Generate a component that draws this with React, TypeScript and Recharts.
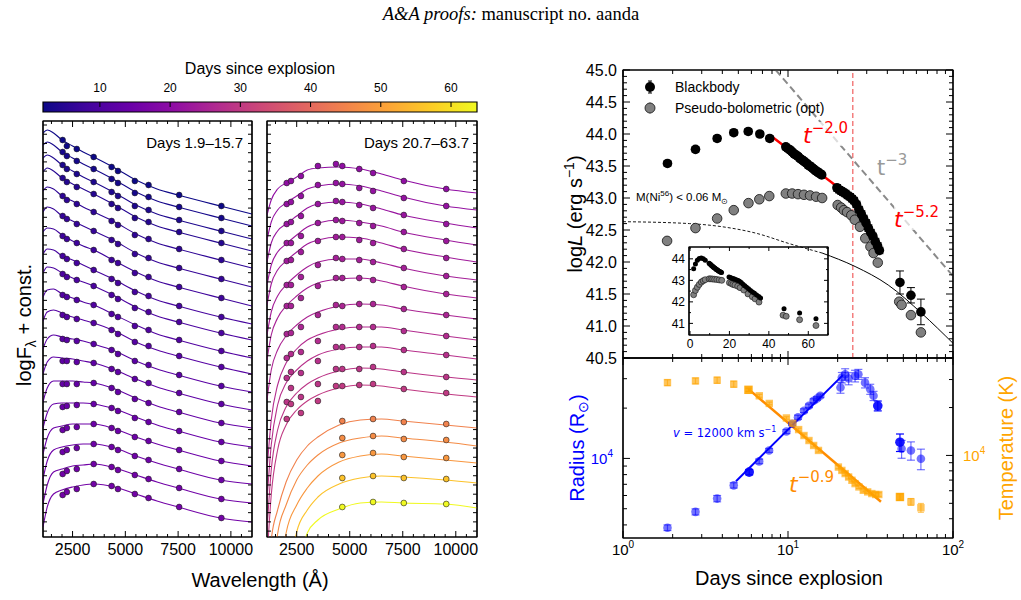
import React from "react";
import { ComposedChart, Line, Scatter, XAxis, YAxis, ErrorBar, ReferenceLine, ReferenceArea } from "recharts";

const FONT = '"Liberation Sans", Arial, Helvetica, sans-serif';
const MATH = '"DejaVu Sans", sans-serif';

// colour scale of the epochs
const dayMin = 1.9;
const dayMax = 63.7;
const cbarTicks = [10, 20, 30, 40, 50, 60];

// SED panels: band wavelengths (A) and the wavelengths where the fits are sampled
const bandWave = [2030, 2230, 2700, 3500, 4350, 4650, 5450, 6100, 7550, 9550];
const fitWave = [1100, 1300, 1600, 2000, 2500, 3000, 3500, 4500, 5500, 6500, 7500, 9500, 11000];
const waveMajor = [2500, 5000, 7500, 10000];

// left panel, days 1.9-15.7 (flux in arbitrary log units, shifted per epoch)
const earlyDays = [1.9, 2.9, 3.8, 4.8, 5.8, 6.8, 7.8, 8.8, 9.8, 10.5, 11.2, 11.9, 12.6, 13.3, 14.0, 14.6, 15.0, 15.4, 15.7];
const earlyFlux = [
  [397, 391, 388, 380, 370, 366, 356, 352, 342, 331],
  [385, 381, 376, 368, 358, 354, 344, 340, 330, 319],
  [372, 368, 363, 355, 345, 341, 331, 327, 317, 306],
  [359, 355, 350, 343, 333, 329, 319, 315, 305, 294],
  [341, 337, 333, 325, 316, 312, 302, 298, 288, 277],
  [321, 318, 313, 306, 297, 293, 283, 279, 269, 258],
  [301, 298, 294, 287, 277, 274, 264, 260, 250, 239],
  [281, 278, 274, 267, 258, 254, 245, 241, 231, 220],
  [263, 260, 257, 251, 242, 238, 229, 225, 215, 204],
  [242, 240, 237, 232, 223, 220, 211, 207, 197, 186],
  [222, 220, 218, 214, 207, 203, 195, 191, 181, 170],
  [198, 197, 196, 193, 187, 183, 176, 172, 162, 151],
  [176, 176, 175, 174, 168, 165, 158, 154, 144, 133],
  [153, 153, 153, 154, 149, 145, 138, 134, 125, 114],
  [130, 131, 132, 133, 129, 126, 119, 115, 106, 95],
  [107, 109, 110, 113, 109, 106, 100, 96, 87, 76],
  [85, 87, 89, 93, 90, 87, 81, 77, 68, 57],
  [63, 66, 68, 73, 70, 67, 62, 58, 49, 38],
  [42, 45, 48, 53, 51, 48, 43, 39, 30, 19],
];
const earlyFit = [
  [404, 407, 404, 397, 391, 385, 380, 369, 357, 348, 342, 331, 323],
  [392, 395, 392, 385, 379, 373, 368, 357, 345, 336, 330, 319, 311],
  [379, 382, 379, 372, 366, 360, 355, 344, 332, 323, 317, 306, 298],
  [365, 369, 366, 359, 353, 348, 343, 332, 320, 311, 305, 294, 286],
  [346, 350, 348, 341, 336, 330, 325, 315, 303, 294, 288, 277, 269],
  [325, 330, 328, 321, 316, 311, 306, 296, 284, 275, 269, 258, 250],
  [305, 309, 308, 302, 296, 291, 287, 276, 265, 256, 250, 239, 231],
  [283, 288, 287, 281, 277, 272, 267, 257, 246, 237, 231, 220, 213],
  [264, 270, 269, 264, 259, 255, 251, 241, 230, 221, 215, 204, 197],
  [240, 247, 248, 243, 239, 235, 232, 222, 212, 203, 197, 186, 179],
  [216, 225, 227, 224, 220, 217, 214, 206, 195, 187, 181, 170, 163],
  [188, 198, 202, 200, 198, 196, 193, 186, 176, 168, 162, 151, 145],
  [163, 175, 180, 179, 178, 176, 174, 167, 158, 150, 144, 133, 127],
  [135, 149, 156, 156, 156, 155, 154, 148, 139, 131, 125, 114, 109],
  [109, 124, 133, 134, 134, 134, 133, 128, 120, 112, 106, 95, 90],
  [83, 99, 109, 111, 113, 113, 113, 108, 100, 93, 87, 76, 71],
  [58, 76, 87, 90, 92, 93, 93, 89, 81, 74, 68, 57, 53],
  [33, 52, 65, 68, 71, 72, 73, 69, 62, 55, 49, 38, 34],
  [10, 30, 43, 47, 50, 52, 53, 50, 43, 36, 30, 19, 15],
];

// middle panel, days 20.7-63.7
const lateDays = [20.7, 21.4, 22.1, 22.8, 23.5, 24.2, 24.9, 25.6, 27.0, 28.0, 29.0, 30.0, 44.7, 46.7, 48.7, 55.7, 63.7];
const lateFlux = [
  [354, 356, 361, 371, 373, 371, 368, 364, 356, 348],
  [333, 335, 341, 352, 354, 353, 349, 346, 339, 331],
  [313, 315, 321, 333, 336, 335, 332, 329, 322, 313],
  [294, 294, 301, 314, 317, 316, 314, 311, 305, 296],
  [276, 277, 285, 296, 300, 300, 297, 294, 288, 279],
  [252, 252, 260, 272, 279, 278, 277, 275, 269, 261],
  [231, 231, 239, 251, 259, 259, 259, 257, 250, 243],
  [203, 204, 210, 222, 232, 231, 233, 233, 228, 222],
  [179, 183, 185, 196, 210, 210, 210, 210, 206, 201],
  [159, 165, 164, 176, 190, 190, 190, 191, 187, 182],
  [135, 149, 140, 153, 168, 168, 168, 170, 165, 160],
  [118, 133, 124, 136, 151, 151, 152, 153, 148, 144],
  [null, null, null, null, null, 116, null, 118, 115, 113],
  [null, null, null, null, null, 99, null, 101, 98, 97],
  [null, null, null, null, null, 82, null, 84, 80, 79],
  [null, null, null, null, null, 59, null, 61, 59, 58],
  [null, null, null, null, null, 30, null, 35, 34, 33],
];
const lateFit = [
  [322, 337, 348, 354, 360, 367, 369, 370, 368, 363, 357, 348, 344],
  [297, 315, 327, 334, 341, 348, 351, 353, 351, 346, 340, 331, 327],
  [275, 294, 306, 313, 321, 329, 333, 335, 333, 328, 322, 314, 309],
  [252, 272, 285, 293, 302, 310, 314, 317, 315, 311, 305, 297, 292],
  [232, 253, 267, 276, 285, 293, 297, 300, 299, 294, 288, 280, 275],
  [202, 225, 241, 252, 262, 270, 275, 278, 278, 274, 269, 261, 257],
  [177, 202, 219, 231, 241, 249, 254, 258, 259, 256, 251, 243, 239],
  [137, 167, 187, 201, 212, 220, 225, 231, 233, 232, 228, 222, 218],
  [67, 117, 152, 174, 188, 197, 202, 208, 210, 210, 207, 201, 197],
  [37, 92, 132, 154, 167, 176, 182, 188, 190, 190, 187, 182, 178],
  [7, 67, 107, 130, 144, 153, 159, 166, 169, 168, 165, 160, 157],
  [-23, 42, 87, 112, 127, 136, 142, 149, 152, 151, 148, 143, 140],
  [-83, -3, 27, 55, 77, 91, 100, 112, 117, 118, 116, 112, 109],
  [-163, -63, 3, 32, 57, 72, 82, 94, 99, 101, 99, 95, 91],
  [-250, -163, -63, 4, 32, 49, 61, 75, 81, 83, 81, 77, 74],
  [-400, -300, -163, -63, 5, 27, 40, 53, 59, 61, 60, 57, 54],
  [-500, -400, -300, -83, -33, 4, 17, 28, 34, 35, 34, 33, 29],
];

// bolometric light curve
const bbDays = [1.86, 2.75, 3.72, 4.69, 5.74, 6.75, 7.75,
  9.7, 10.0, 10.3, 10.6, 10.9, 11.2, 11.5, 11.8, 12.1, 12.4, 12.7, 13.0, 13.3, 13.6, 13.9, 14.2, 14.5, 14.8, 15.1, 15.4, 15.7, 16.0,
  19.8, 20.4, 21.0, 21.6, 22.3, 23.0, 23.7, 24.4, 25.1,
  26.0, 26.9, 27.8, 28.7, 29.7, 30.7, 31.7, 32.7, 33.8, 34.9, 35.8,
  47.7, 55.6, 63.9];
const bbLum = [43.54, 43.76, 43.93, 44.02, 44.04, 44.0, 43.93,
  43.8, 43.77, 43.75, 43.72, 43.69, 43.67, 43.65, 43.62, 43.6, 43.58, 43.56, 43.54, 43.51, 43.5, 43.48, 43.46, 43.44, 43.42, 43.41, 43.39, 43.38, 43.36,
  43.16, 43.13, 43.11, 43.09, 43.07, 43.04, 43.02, 42.99, 42.96,
  42.9, 42.82, 42.75, 42.68, 42.61, 42.53, 42.46, 42.4, 42.32, 42.25, 42.18,
  41.68, 41.48, 41.22];
const bbErr = [0.04, 0.04, 0.04, 0.04, 0.04, 0.04, 0.04,
  0.04, 0.04, 0.04, 0.04, 0.04, 0.04, 0.04, 0.04, 0.04, 0.04, 0.04, 0.04, 0.04, 0.04, 0.04, 0.04, 0.04, 0.04, 0.04, 0.04, 0.04, 0.04,
  0.05, 0.05, 0.05, 0.05, 0.05, 0.05, 0.05, 0.05, 0.05,
  0.05, 0.05, 0.05, 0.05, 0.05, 0.05, 0.05, 0.05, 0.05, 0.05, 0.05,
  0.18, 0.12, 0.2];
const pbDays = [1.85, 2.75, 3.72, 4.69, 5.76, 6.7, 7.7, 9.7, 10.6, 11.5, 12.5, 13.6, 14.8, 16.1,
  20.0, 21.0, 21.8, 22.8, 24.2, 25.4, 27.3, 29.4, 31.6, 33.0, 35.0, 47.2, 48.8, 55.6, 63.9];
const pbLum = [42.33, 42.53, 42.68, 42.81, 42.92, 42.98, 43.03, 43.07, 43.07, 43.06, 43.05, 43.04, 43.02, 43.0,
  42.89, 42.85, 42.81, 42.78, 42.73, 42.66, 42.55, 42.37, 42.24, 42.14, 41.99, 41.38, 41.33, 41.17, 40.9];
const niEarlyDays = [1, 2.53, 4.02, 6.4, 10.1, 16.1];
const niEarlyLum = [42.63, 42.6, 42.55, 42.45, 42.29, 42.14];
const niLateDays = [16.1, 25.5, 40.5, 64.5, 100];
const niLateLum = [42.14, 41.93, 41.64, 41.2, 40.73];
const powDays = [7.9, 25, 36.2];
const powLum = [43.97, 42.98, 42.14];
const t3Days = [8.43, 100];
const t3Lum = [45.0, 41.78];
const breakDay = 24.7;

// radius and temperature
const radDays = [1.86, 2.75, 3.72, 4.69, 5.82, 6.69, 7.68, 9.78, 10.6, 11.5, 12.5, 13.4, 14.3, 15.0, 15.7,
  20.8, 21.2, 22.2, 23.3, 25.5, 26.7, 29.3, 31.5, 33.0, 35.0, 47.7, 48.8, 55.6, 63.9];
const radVal = [3850, 4790, 5750, 6900, 8280, 9600, 11160, 14480, 16110, 17630, 19300, 20650, 22140, 22840, 23710,
  26550, 30470, 31900, 30080, 31190, 31900, 28410, 25980, 23700, 20650, 12500, 11420, 11160, 9960];
const radErr = [150, 200, 250, 250, 300, 300, 300, 400, 400, 500, 500, 500, 600, 600, 600,
  2000, 2200, 2500, 2500, 2500, 2200, 2000, 1800, 1500, 1400, 1500, 1400, 1400, 1400];
const radBold = [4, 24, 25];
const tempDays = [1.86, 2.75, 3.72, 4.69, 5.76, 6.7, 7.7, 9.78, 10.7, 11.6, 12.5, 13.4, 14.3, 15.3,
  20.2, 21.2, 22.2, 23.3, 24.4, 25.5, 26.9, 28.6, 30.4, 32.2, 34.0, 35.5, 47.7, 55.6, 63.9];
const tempVal = [28700, 29420, 29710, 28060, 25850, 23710, 21230, 17200, 15930, 14540, 13340, 12410, 11550, 10750,
  8450, 8050, 7690, 7320, 6980, 6650, 6340, 6040, 5900, 5760, 5680, 5680, 5480, 5110, 4690];
const tempErr = [1200, 1200, 1300, 1200, 600, 500, 400, 300, 300, 300, 300, 250, 250, 250,
  200, 200, 200, 200, 150, 150, 150, 150, 150, 150, 150, 150, 250, 250, 300];
const tempBold = [4, 26];
const velDays = [4.84, 21.5];
const velRad = [7300, 31500];
const coolDays = [5.76, 36.6];
const coolTemp = [26100, 5110];

// ---------- helpers ----------
const plasmaStops = ["#0d0887", "#41049d", "#6a00a8", "#8f0da4", "#b12a90", "#cc4778", "#e16462", "#f2844b", "#fca636", "#fcce25", "#f0f921"];
function hex(c: string) {
  return [1, 3, 5].map((i) => parseInt(c.slice(i, i + 2), 16));
}
function plasma(day: number) {
  const t = Math.max(0, Math.min(1, (day - dayMin) / (dayMax - dayMin))) * 10;
  const i = Math.min(9, Math.floor(t));
  const a = hex(plasmaStops[i]);
  const b = hex(plasmaStops[i + 1]);
  const f = t - i;
  const c = a.map((v, k) => Math.round(v + (b[k] - v) * f));
  return `rgb(${c[0]},${c[1]},${c[2]})`;
}

const zip = (xs: number[], ys: (number | null)[], es?: number[]) =>
  xs.map((x, i) => ({ x, y: ys[i], e: es ? es[i] : 0 })).filter((d) => d.y !== null);

const AX = { stroke: "#000", strokeWidth: 1.2 };
const near = (a: number, b: number) => Math.abs(a - b) <= 1e-6 * Math.max(1, Math.abs(b));

type Side = "bottom" | "top" | "left" | "right";
type TickCfg = {
  side: Side;
  majors: number[];
  major?: number;
  minor?: number;
  label?: (v: number) => React.ReactNode;
  size?: number;
  gap?: number;
  color?: string;
};

function tickFn(c: TickCfg) {
  return (p: any) => {
    const v = Number(p.payload?.value);
    const big = c.majors.some((m) => near(m, v));
    const len = big ? c.major ?? 6 : c.minor ?? 3;
    const x = Number(p.x);
    const y = Number(p.y);
    let x2 = x;
    let y2 = y;
    if (c.side === "bottom") y2 = y - len;
    if (c.side === "top") y2 = y + len;
    if (c.side === "left") x2 = x + len;
    if (c.side === "right") x2 = x - len;
    let text = null;
    if (big && c.label) {
      const gap = c.gap ?? 8;
      const st = { fontFamily: FONT, fontSize: c.size ?? 16, fill: c.color ?? "#000" };
      if (c.side === "bottom")
        text = <text x={x} y={y + gap} textAnchor="middle" {...st}>{c.label(v)}</text>;
      else if (c.side === "left")
        text = <text x={x - gap} y={y} dy="0.36em" textAnchor="end" {...st}>{c.label(v)}</text>;
      else if (c.side === "right")
        text = <text x={x + gap} y={y} dy="0.36em" textAnchor="start" {...st}>{c.label(v)}</text>;
    }
    return (
      <g>
        <path d={`M${x},${y}L${x2},${y2}`} stroke="#000" strokeWidth={1} fill="none" />
        {text}
      </g>
    );
  };
}

const dot = (fill: string, r: number, stroke = "none", sw = 0, op = 1) => (p: any) =>
  <circle cx={p.cx} cy={p.cy} r={r} fill={fill} fillOpacity={op} stroke={stroke} strokeWidth={sw} />;
const square = (fill: string, s: number, op = 1) => (p: any) =>
  <rect x={p.cx - s / 2} y={p.cy - s / 2} width={s} height={s} fill={fill} fillOpacity={op} />;

const pow10 = (e: string, size = 10, rise = 7) => (
  <>
    <tspan>10</tspan>
    <tspan dy={-rise} fontSize={size}>{e}</tspan>
  </>
);

const waveTicks = Array.from({ length: 19 }, (_, i) => 1500 + 500 * i);
const fluxTicks = Array.from({ length: 45 }, (_, k) => 412 - 9.23 * k);
const logTicks = [1, 2, 3, 4, 5, 6, 7, 8, 9, 10, 20, 30, 40, 50, 60, 70, 80, 90, 100];
const lumTicks = Array.from({ length: 46 }, (_, i) => Math.round((40.5 + 0.1 * i) * 10) / 10);
const lumMajor = lumTicks.filter((v) => Math.abs(v * 2 - Math.round(v * 2)) < 1e-6);
const radTicks = [4000, 5000, 6000, 7000, 8000, 9000, 10000, 20000, 30000];
const tempTicks = [4000, 5000, 6000, 7000, 8000, 9000, 10000, 20000, 30000];

// margins for a plot area; side axes take 1px each
const mg = (top: number, right: number, left: number, bottom = 0) => ({ top: top - 1, right: right - 1, left: left - 1, bottom });

type AxisSet = {
  xDomain: [number, number];
  yDomain: [number, number];
  xLog?: boolean;
  yLog?: boolean;
  xTicks: number[];
  yTicks: number[];
  bottomTick: (p: any) => React.ReactNode;
  topTick: (p: any) => React.ReactNode;
  leftTick: (p: any) => React.ReactNode;
  rightTick: (p: any) => React.ReactNode;
  bottomHeight: number;
};

function axes(a: AxisSet) {
  const common = { tickSize: 0, tickMargin: 0, tickLine: false, axisLine: AX, interval: 0 as const, allowDataOverflow: true, type: "number" as const };
  return [
    <XAxis key="xb" xAxisId="b" dataKey="x" domain={a.xDomain} scale={a.xLog ? "log" : "linear"} ticks={a.xTicks} height={a.bottomHeight} tick={a.bottomTick} {...common} />,
    <XAxis key="xt" xAxisId="t" orientation="top" dataKey="x" domain={a.xDomain} scale={a.xLog ? "log" : "linear"} ticks={a.xTicks} height={1} tick={a.topTick} {...common} />,
    <YAxis key="yl" yAxisId="l" dataKey="y" domain={a.yDomain} scale={a.yLog ? "log" : "linear"} ticks={a.yTicks} width={1} tick={a.leftTick} {...common} />,
    <YAxis key="yr" yAxisId="r" orientation="right" dataKey="y" domain={a.yDomain} scale={a.yLog ? "log" : "linear"} ticks={a.yTicks} width={1} tick={a.rightTick} {...common} />,
  ];
}

const frame = (x: [number, number], y: [number, number], yId = "l") => (
  <ReferenceArea xAxisId="b" yAxisId={yId} x1={x[0]} x2={x[1]} y1={y[0]} y2={y[1]} fill="none" fillOpacity={0} stroke="#000" strokeWidth={1.2} ifOverflow="visible" />
);

// ---------- SED panel ----------
function SpecPanel({ left, width, days, flux, fit }: { left: number; width: number; days: number[]; flux: (number | null)[][]; fit: number[][] }) {
  const m = mg(10, 10, 10);
  return (
    <div style={{ position: "absolute", left: left - 10, top: 121 - 10 }}>
      <ComposedChart width={width + 20} height={416 + 10 + 30} margin={m}>
        {axes({
          xDomain: [1100, 11000],
          yDomain: [0, 416],
          xTicks: waveTicks,
          yTicks: fluxTicks,
          bottomHeight: 30,
          bottomTick: tickFn({ side: "bottom", majors: waveMajor, label: (v) => String(v), gap: 18 }),
          topTick: tickFn({ side: "top", majors: waveMajor }),
          leftTick: tickFn({ side: "left", majors: [], minor: 4 }),
          rightTick: tickFn({ side: "right", majors: [], minor: 4 }),
        })}
        {fit.map((row, i) => (
          <Line key={"f" + i} xAxisId="b" yAxisId="l" data={zip(fitWave, row)} dataKey="y" type="monotone"
            stroke={plasma(days[i])} strokeWidth={1.1} dot={false} activeDot={false} isAnimationActive={false} />
        ))}
        {flux.map((row, i) => (
          <Scatter key={"p" + i} xAxisId="b" yAxisId="l" data={zip(bandWave, row)} dataKey="y"
            shape={dot(plasma(days[i]), 2.9, "#222", 0.6)} isAnimationActive={false} />
        ))}
        {frame([1100, 11000], [0, 416])}
      </ComposedChart>
    </div>
  );
}

// ---------- colour bar ----------
function ColorBar() {
  const m = { top: 30, right: 10, left: 10, bottom: 5 };
  return (
    <div style={{ position: "absolute", left: 43 - m.left, top: 101 - m.top }}>
      <ComposedChart width={434 + m.left + m.right} height={11 + m.top + m.bottom} margin={m}>
        <defs>
          <linearGradient id="plasmaGrad" x1="0" y1="0" x2="1" y2="0">
            {plasmaStops.map((c, i) => (
              <stop key={c} offset={`${i * 10}%`} stopColor={c} />
            ))}
          </linearGradient>
        </defs>
        <XAxis xAxisId="t" orientation="top" dataKey="x" type="number" domain={[dayMin, dayMax]} allowDataOverflow ticks={cbarTicks} interval={0}
          height={1} tickSize={0} tickMargin={0} tickLine={false} axisLine={false}
          tick={(p: any) => (
            <text x={p.x} y={Number(p.y) - 10} textAnchor="middle" fontFamily={FONT} fontSize={12}>{p.payload.value}</text>
          )} />
        <YAxis yAxisId="l" dataKey="y" type="number" domain={[0, 1]} hide />
        <ReferenceArea xAxisId="t" yAxisId="l" x1={dayMin} x2={dayMax} y1={0} y2={1} fill="url(#plasmaGrad)" fillOpacity={1} stroke="#000" strokeWidth={1.2} ifOverflow="visible" />
        {cbarTicks.map((d) => (
          <ReferenceLine key={d} xAxisId="t" yAxisId="l" segment={[{ x: d, y: 1 }, { x: d, y: 0.5 }]} stroke="#000" strokeWidth={1} />
        ))}
        <Scatter xAxisId="t" yAxisId="l" data={[{ x: dayMin, y: 0 }, { x: dayMax, y: 1 }]} dataKey="y" shape={() => <g />} isAnimationActive={false} />
      </ComposedChart>
    </div>
  );
}

// ---------- light curve ----------
function LightCurve() {
  const m = mg(10, 10, 60, 12);
  return (
    <div style={{ position: "absolute", left: 623 - 60, top: 70 - 10 }}>
      <ComposedChart width={330 + 70} height={288 + 10 + 1 + 12} margin={m}>
        {axes({
          xDomain: [1, 100],
          yDomain: [40.5, 45],
          xLog: true,
          xTicks: logTicks,
          yTicks: lumTicks,
          bottomHeight: 1,
          bottomTick: tickFn({ side: "bottom", majors: [1, 10, 100], major: 7, minor: 4 }),
          topTick: tickFn({ side: "top", majors: [1, 10, 100], major: 7, minor: 4 }),
          leftTick: tickFn({ side: "left", majors: lumMajor, major: 7, minor: 4, label: (v) => v.toFixed(1), gap: 6, size: 16 }),
          rightTick: tickFn({ side: "right", majors: lumMajor, major: 7, minor: 4 }),
        })}
        <ReferenceLine xAxisId="b" yAxisId="l" x={breakDay} stroke="#f26b6b" strokeWidth={1.3} strokeDasharray="5 3" />
        <Line xAxisId="b" yAxisId="l" data={zip(niEarlyDays, niEarlyLum)} dataKey="y" type="monotone" stroke="#000" strokeWidth={0.9}
          strokeDasharray="3 2" dot={false} activeDot={false} isAnimationActive={false} />
        <Line xAxisId="b" yAxisId="l" data={zip(niLateDays, niLateLum)} dataKey="y" type="monotone" stroke="#000" strokeWidth={1}
          dot={false} activeDot={false} isAnimationActive={false} />
        <Line xAxisId="b" yAxisId="l" data={zip(t3Days, t3Lum)} dataKey="y" type="linear" stroke="#8a8a8a" strokeWidth={2}
          strokeDasharray="7 4" dot={false} activeDot={false} isAnimationActive={false} />
        <Scatter xAxisId="b" yAxisId="l" data={zip(pbDays, pbLum)} dataKey="y" shape={dot("#808080", 4.8, "#111", 0.8)} isAnimationActive={false} />
        <Scatter xAxisId="b" yAxisId="l" data={zip(bbDays, bbLum, bbErr)} dataKey="y" shape={dot("#000", 4.8)} isAnimationActive={false}>
          <ErrorBar dataKey="e" direction="y" width={4} stroke="#000" strokeWidth={1} />
        </Scatter>
        <Line xAxisId="b" yAxisId="l" data={zip(powDays, powLum)} dataKey="y" type="linear" stroke="#ff0000" strokeWidth={2.5}
          dot={false} activeDot={false} isAnimationActive={false} />
        {frame([1, 100], [40.5, 45])}
      </ComposedChart>
    </div>
  );
}

function Inset() {
  const xt = [0, 10, 20, 30, 40, 50, 60, 70];
  const yt = [41, 41.5, 42, 42.5, 43, 43.5, 44, 44.5];
  const xm = [0, 20, 40, 60];
  const ym = [41, 42, 43, 44];
  return (
    <div style={{ position: "absolute", left: 689 - 30, top: 247 - 5 }}>
      <ComposedChart width={139 + 35} height={88 + 5 + 18} margin={mg(5, 5, 30)}>
        {axes({
          xDomain: [-0.5, 70],
          yDomain: [40.46, 44.55],
          xTicks: xt,
          yTicks: yt,
          bottomHeight: 18,
          bottomTick: tickFn({ side: "bottom", majors: xm, major: 4, minor: 2, label: (v) => String(v), gap: 13, size: 12 }),
          topTick: tickFn({ side: "top", majors: xm, major: 4, minor: 2 }),
          leftTick: tickFn({ side: "left", majors: ym, major: 4, minor: 2, label: (v) => String(v), gap: 4, size: 12 }),
          rightTick: tickFn({ side: "right", majors: ym, major: 4, minor: 2 }),
        })}
        <Scatter xAxisId="b" yAxisId="l" data={zip(pbDays, pbLum)} dataKey="y" shape={dot("#808080", 3, "#111", 0.6)} isAnimationActive={false} />
        <Scatter xAxisId="b" yAxisId="l" data={zip(bbDays, bbLum)} dataKey="y" shape={dot("#000", 2.5)} isAnimationActive={false} />
        {frame([-0.5, 70], [40.46, 44.55])}
      </ComposedChart>
    </div>
  );
}

// ---------- radius / temperature ----------
function RadiusTemp() {
  const rad = zip(radDays, radVal, radErr);
  const tmp = zip(tempDays, tempVal, tempErr);
  const radA = rad.filter((_, i) => !radBold.includes(i));
  const radB = rad.filter((_, i) => radBold.includes(i));
  const tmpA = tmp.filter((_, i) => !tempBold.includes(i));
  const tmpB = tmp.filter((_, i) => tempBold.includes(i));
  const common = { tickSize: 0, tickMargin: 0, tickLine: false, axisLine: AX, interval: 0 as const, allowDataOverflow: true, type: "number" as const };
  return (
    <div style={{ position: "absolute", left: 623 - 60, top: 358 - 10 }}>
      <ComposedChart width={330 + 100} height={180 + 10 + 30} margin={mg(10, 40, 60)}>
        <XAxis xAxisId="b" dataKey="x" scale="log" domain={[1, 100]} ticks={logTicks} height={30} {...common}
          tick={tickFn({ side: "bottom", majors: [1, 10, 100], major: 7, minor: 4, label: (v) => pow10(String(Math.round(Math.log10(v)))), gap: 17, size: 15 })} />
        <XAxis xAxisId="t" orientation="top" dataKey="x" scale="log" domain={[1, 100]} ticks={logTicks} height={1} {...common}
          tick={tickFn({ side: "top", majors: [1, 10, 100], major: 7, minor: 4 })} />
        <YAxis yAxisId="l" dataKey="y" scale="log" domain={[3340, 39900]} ticks={radTicks} width={1} {...common}
          tick={tickFn({ side: "left", majors: [10000], major: 7, minor: 4, label: () => pow10("4"), gap: 10, size: 15, color: "#0000ff" })} />
        <YAxis yAxisId="r" orientation="right" dataKey="y" scale="log" domain={[3027, 40970]} ticks={tempTicks} width={1} {...common}
          tick={tickFn({ side: "right", majors: [10000], major: 7, minor: 4, label: () => pow10("4"), gap: 10, size: 15, color: "#ffa500" })} />
        <Scatter xAxisId="b" yAxisId="l" data={radA} dataKey="y" shape={dot("#0000ff", 4.3, "none", 0, 0.55)} isAnimationActive={false}>
          <ErrorBar dataKey="e" direction="y" width={4} stroke="#0000ff" strokeOpacity={0.55} strokeWidth={1.2} />
        </Scatter>
        <Scatter xAxisId="b" yAxisId="l" data={radB} dataKey="y" shape={dot("#0000ff", 4.8, "none", 0, 0.9)} isAnimationActive={false}>
          <ErrorBar dataKey="e" direction="y" width={4} stroke="#0000ff" strokeWidth={1.2} />
        </Scatter>
        <Scatter xAxisId="b" yAxisId="r" data={tmpA} dataKey="y" shape={square("#ffa500", 7.4, 0.65)} isAnimationActive={false}>
          <ErrorBar dataKey="e" direction="y" width={3} stroke="#ffa500" strokeOpacity={0.6} strokeWidth={1.2} />
        </Scatter>
        <Scatter xAxisId="b" yAxisId="r" data={tmpB} dataKey="y" shape={square("#ffa500", 8.4, 0.9)} isAnimationActive={false}>
          <ErrorBar dataKey="e" direction="y" width={3} stroke="#ffa500" strokeWidth={1.2} />
        </Scatter>
        <Line xAxisId="b" yAxisId="l" data={zip(velDays, velRad)} dataKey="y" type="linear" stroke="#0000ff" strokeWidth={2}
          dot={false} activeDot={false} isAnimationActive={false} />
        <Line xAxisId="b" yAxisId="r" data={zip(coolDays, coolTemp)} dataKey="y" type="linear" stroke="#ff8c00" strokeWidth={2.5}
          dot={false} activeDot={false} isAnimationActive={false} />
        {frame([1, 100], [3340, 39900])}
      </ComposedChart>
    </div>
  );
}

function Overlay() {
  const t = { fontFamily: FONT };
  return (
    <svg width={1021} height={600} style={{ position: "absolute", left: 0, top: 0, pointerEvents: "none" }}>
      <text x={511} y={20} textAnchor="middle" fontFamily='"Liberation Serif", "Times New Roman", serif' fontSize={18.5}>
        <tspan fontStyle="italic">A&amp;A proofs:</tspan> manuscript no. aanda
      </text>
      <text x={260} y={74} textAnchor="middle" fontSize={16} {...t}>Days since explosion</text>
      <text x={243} y={148} textAnchor="end" fontSize={15} {...t}>Days 1.9–15.7</text>
      <text x={469} y={148} textAnchor="end" fontSize={15} {...t}>Days 20.7–63.7</text>
      <text x={260} y={587} textAnchor="middle" fontSize={20} {...t}>Wavelength (Å)</text>
      <text transform="translate(24,325) rotate(-90)" textAnchor="middle" dy="0.35em" fontSize={20} {...t}>
        logF<tspan dy={5} fontSize={14}>λ</tspan><tspan dy={-5}> + const.</tspan>
      </text>
      <text transform="translate(575,214) rotate(-90)" textAnchor="middle" dy="0.35em" fontSize={20} {...t}>
        log<tspan fontStyle="italic">L</tspan> (erg s<tspan dy={-8} fontSize={14}>−1</tspan><tspan dy={8}>)</tspan>
      </text>
      <text transform="translate(577,448) rotate(-90)" textAnchor="middle" dy="0.35em" fontSize={20} fill="#0000ff" {...t}>
        Radius (R<tspan dy={4} fontSize={14}>⊙</tspan><tspan dy={-4}>)</tspan>
      </text>
      <text transform="translate(1006,448) rotate(-90)" textAnchor="middle" dy="0.35em" fontSize={20} fill="#ffa500" {...t}>
        Temperature (K)
      </text>
      <text x={789} y={585} textAnchor="middle" fontSize={20} {...t}>Days since explosion</text>

      {/* legend */}
      <line x1={650} x2={650} y1={81} y2={93} stroke="#000" strokeWidth={1} />
      <line x1={648} x2={652} y1={81} y2={81} stroke="#000" />
      <line x1={648} x2={652} y1={93} y2={93} stroke="#000" />
      <circle cx={650} cy={87} r={5} fill="#000" />
      <line x1={650} x2={650} y1={102} y2={114} stroke="#999" strokeWidth={1} />
      <circle cx={650} cy={108} r={5} fill="#808080" stroke="#111" strokeWidth={0.8} />
      <text x={675} y={92} fontSize={14} {...t}>Blackbody</text>
      <text x={675} y={113} fontSize={14} {...t}>Pseudo-bolometric (opt)</text>

      <text x={636} y={201} fontSize={11.5} {...t}>
        M(Ni<tspan dy={-5} fontSize={8}>56</tspan><tspan dy={5}>) &lt; 0.06 M</tspan><tspan dy={3} fontSize={8}>⊙</tspan>
      </text>

      <rect x={802} y={122} width={46} height={24} fill="#fff" fillOpacity={0.7} />
      <text x={803} y={143} fill="#ff0000" fontFamily={MATH}>
        <tspan fontStyle="italic" fontSize={22}>t</tspan>
        <tspan dy={-10} fontSize={15}>−2.0</tspan>
      </text>
      <text x={877} y={175} fill="#999" fontFamily={MATH}>
        <tspan fontSize={21}>t</tspan>
        <tspan dy={-10} fontSize={15}>−3</tspan>
      </text>
      <rect x={894} y={205} width={41} height={25} fill="#fff" fillOpacity={0.7} />
      <text x={894} y={227} fill="#ff0000" fontFamily={MATH}>
        <tspan fontStyle="italic" fontSize={22}>t</tspan>
        <tspan dy={-10} fontSize={15}>−5.2</tspan>
      </text>
      <text x={673} y={437} fill="#0000ff" fontSize={11.5} fontFamily={MATH}>
        <tspan fontStyle="italic">v</tspan> = 12000 km s<tspan dy={-5} fontSize={8}>−1</tspan>
      </text>
      <text x={789} y={492} fill="#ff8c00" fontFamily={MATH}>
        <tspan fontStyle="italic" fontSize={22}>t</tspan>
        <tspan dy={-10} fontSize={15}>−0.9</tspan>
      </text>
    </svg>
  );
}

export default function App() {
  return (
    <div style={{ position: "absolute", left: 0, top: 0, width: 1021, height: 600, background: "#fff", fontFamily: FONT }}>
      <ColorBar />
      <SpecPanel left={43} width={209} days={earlyDays} flux={earlyFlux} fit={earlyFit} />
      <SpecPanel left={267} width={210} days={lateDays} flux={lateFlux} fit={lateFit} />
      <LightCurve />
      <Inset />
      <RadiusTemp />
      <Overlay />
    </div>
  );
}
